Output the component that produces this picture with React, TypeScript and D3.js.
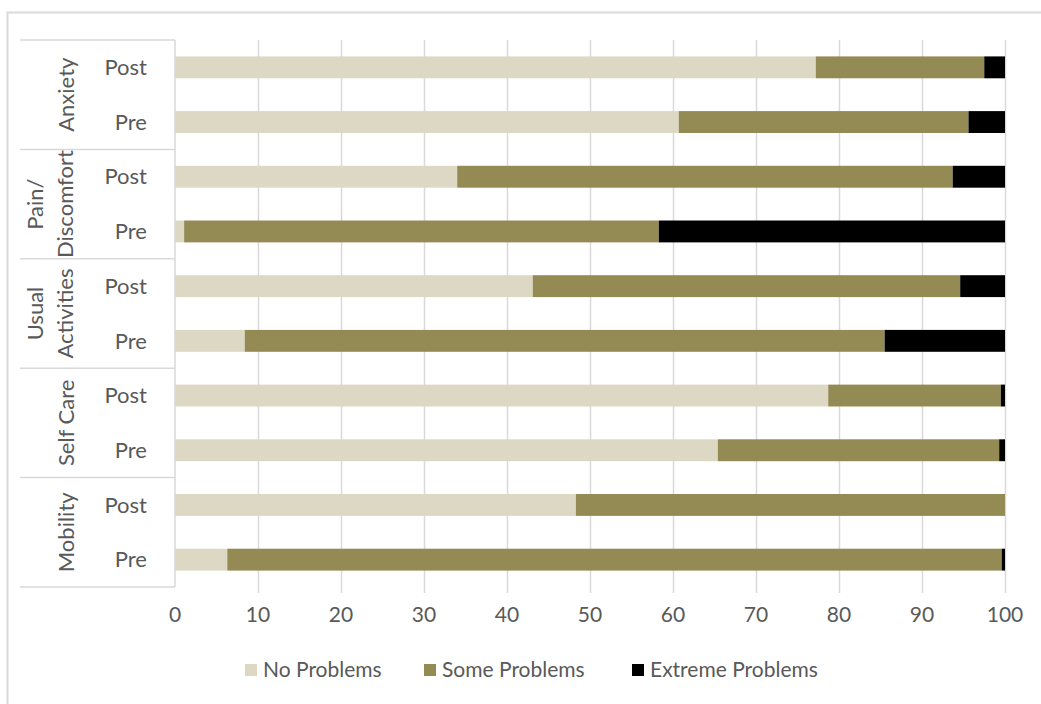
import * as d3 from 'd3';
import { useEffect, useRef } from 'react';

// groups from top to bottom, each with Post then Pre
const groups = ['Anxiety', 'Pain/\nDiscomfort', 'Usual\nActivities', 'Self Care', 'Mobility'];
const phases = ['Post', 'Pre'];
const seriesNames = ['No Problems', 'Some Problems', 'Extreme Problems'];
const seriesColors = ['#DDD8C4', '#948A54', '#000000'];

// percentages, in row order (Anxiety Post, Anxiety Pre, Pain Post, ...)
const noProblems = [77.2, 60.7, 34.0, 1.1, 43.1, 8.4, 78.7, 65.4, 48.3, 6.3];
const someProblems = [20.3, 34.9, 59.7, 57.2, 51.5, 77.1, 20.8, 33.9, 51.7, 93.3];
const extremeProblems = [2.5, 4.4, 6.3, 41.7, 5.4, 14.5, 0.5, 0.7, 0.0, 0.4];

const xTicks = [0, 10, 20, 30, 40, 50, 60, 70, 80, 90, 100];

const W = 1041;
const H = 704;
const FONT = 'Lato, "Liberation Sans Narrow", sans-serif';
const TEXT = '#595959';
const GRID = '#D9D9D9';

export default function App() {
  const svgRef = useRef<SVGSVGElement | null>(null);

  useEffect(() => {
    const svg = d3.select(svgRef.current);
    svg.selectAll('*').remove();

    const left = 175, right = 1005, top = 40, bottom = 587;
    const labelLeft = 20;

    const rows = groups.flatMap((g, gi) => phases.map((p) => ({ key: `${gi}-${p}`, group: gi, phase: p })));
    const data = rows.map((r, i) => ({
      ...r,
      'No Problems': noProblems[i],
      'Some Problems': someProblems[i],
      'Extreme Problems': extremeProblems[i],
    }));

    const x = d3.scaleLinear().domain([0, 100]).range([left, right]);
    const y = d3.scaleBand().domain(rows.map((r) => r.key)).range([top, bottom]).paddingInner(0.6).paddingOuter(0.3);
    const bandStep = (bottom - top) / rows.length;

    // outer chart border
    svg.append('rect')
      .attr('x', 7.5).attr('y', 12.5)
      .attr('width', 1100).attr('height', 800)
      .attr('fill', '#fff').attr('stroke', GRID).attr('stroke-width', 2);

    // gridlines
    svg.append('g').selectAll('line')
      .data(xTicks.filter((t) => t > 0))
      .enter().append('line')
      .attr('x1', (d) => Math.round(x(d)) + 0.5).attr('x2', (d) => Math.round(x(d)) + 0.5)
      .attr('y1', top).attr('y2', bottom + 6)
      .attr('stroke', GRID).attr('stroke-width', 1.5);

    // stacked bars
    const stack = d3.stack<any>().keys(seriesNames);
    const layers = stack(data);
    svg.append('g').selectAll('g')
      .data(layers)
      .enter().append('g')
      .attr('fill', (_, i) => seriesColors[i])
      .selectAll('rect')
      .data((d) => d)
      .enter().append('rect')
      .attr('x', (d) => x(d[0]))
      .attr('width', (d) => Math.max(0, x(d[1]) - x(d[0])))
      .attr('y', (d) => y(d.data.key) as number)
      .attr('height', y.bandwidth());

    // category axis: vertical line and group separators
    const axis = svg.append('g').attr('stroke', GRID).attr('stroke-width', 1.5);
    axis.append('line').attr('x1', left).attr('x2', left).attr('y1', top).attr('y2', bottom);
    d3.range(groups.length + 1).forEach((i) => {
      const yy = top + i * bandStep * phases.length;
      axis.append('line').attr('x1', labelLeft).attr('x2', left).attr('y1', yy).attr('y2', yy);
    });

    // phase labels
    svg.append('g').selectAll('text')
      .data(rows)
      .enter().append('text')
      .attr('x', 147)
      .attr('y', (d) => (y(d.key) as number) + y.bandwidth() / 2)
      .attr('dy', '0.35em')
      .attr('text-anchor', 'end')
      .attr('font-family', FONT)
      .attr('font-size', 22).attr('fill', TEXT)
      .text((d) => d.phase);

    // group labels, rotated
    groups.forEach((g, gi) => {
      const cy = top + (gi + 0.5) * bandStep * phases.length;
      const lines = g.split('\n');
      const lineH = 30;
      const cx = lines.length > 1 ? 50 : 66;
      const t = svg.append('text')
        .attr('transform', `translate(${cx},${cy}) rotate(-90)`)
        .attr('text-anchor', 'middle')
        .attr('font-family', FONT)
        .attr('font-size', 22).attr('fill', TEXT);
      lines.forEach((ln, li) => {
        t.append('tspan')
          .attr('x', 0)
          .attr('y', (li - (lines.length - 1) / 2) * lineH)
          .attr('dy', '0.35em')
          .text(ln);
      });
    });

    // x tick labels
    svg.append('g').selectAll('text')
      .data(xTicks)
      .enter().append('text')
      .attr('x', (d) => x(d))
      .attr('y', 615)
      .attr('dy', '0.35em')
      .attr('text-anchor', 'middle')
      .attr('font-family', FONT)
      .attr('font-size', 21).attr('fill', TEXT)
      .text((d) => d);

    // legend
    const legendX = [245, 424, 632];
    const lg = svg.append('g').selectAll('g')
      .data(seriesNames)
      .enter().append('g')
      .attr('transform', (_, i) => `translate(${legendX[i]},670)`);
    lg.append('rect')
      .attr('x', 0).attr('y', -6).attr('width', 12).attr('height', 12)
      .attr('fill', (_, i) => seriesColors[i]);
    lg.append('text')
      .attr('x', 18).attr('y', 0).attr('dy', '0.35em')
      .attr('font-family', FONT)
      .attr('font-size', 21).attr('fill', TEXT)
      .text((d) => d);
  }, []);

  return (
    <div style={{ position: 'absolute', left: 0, top: 0, width: W, height: H, overflow: 'hidden', background: '#fff' }}>
      <svg ref={svgRef} width={W} height={H} style={{ display: 'block' }} />
    </div>
  );
}
